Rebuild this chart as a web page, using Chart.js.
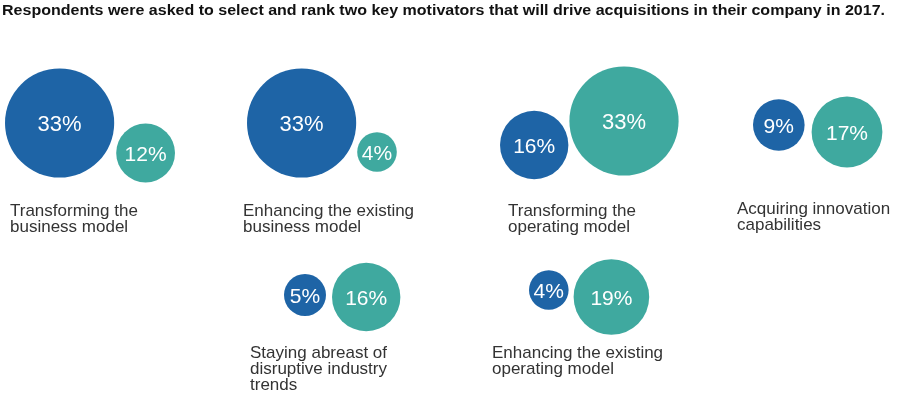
<!DOCTYPE html>
<html>
<head>
<meta charset="utf-8">
<script src="https://cdn.jsdelivr.net/npm/chart.js@4"></script>
<style>
  html, body { margin: 0; padding: 0; background: #ffffff; }
  #wrap { position: relative; width: 900px; height: 399px; }
</style>
</head>
<body>
<div id="wrap"><canvas id="c"></canvas></div>
<script>
// ---- data ----
const titleText = 'Respondents were asked to select and rank two key motivators that will drive acquisitions in their company in 2017.';
const categories = [
  ['Transforming the', 'business model'],
  ['Enhancing the existing', 'business model'],
  ['Transforming the', 'operating model'],
  ['Acquiring innovation', 'capabilities'],
  ['Staying abreast of', 'disruptive industry', 'trends'],
  ['Enhancing the existing', 'operating model']
];
const rankFirst  = [33, 33, 16, 9, 5, 4];   // blue bubbles
const rankSecond = [12, 4, 33, 17, 16, 19]; // teal bubbles

// ---- layout (positions / styles, not data) ----
const layout = [
  { left: 5,   gap: 2, yA: 123, yB: 153, lx: 10,  ly: 216 },
  { left: 247, gap: 1, yA: 123, yB: 152, lx: 243, ly: 216 },
  { left: 500, gap: 1, yA: 145, yB: 121, lx: 508, ly: 216 },
  { left: 753, gap: 7, yA: 125, yB: 132, lx: 737, ly: 214 },
  { left: 284, gap: 6, yA: 295, yB: 297, lx: 250, ly: 358 },
  { left: 529, gap: 5, yA: 290, yB: 297, lx: 492, ly: 358 }
];
const BLUE = '#1e64a6';
const TEAL = '#3fa99f';
const radiusOf = v => 15 + 1.2 * v;

const firstPts = [], secondPts = [];
categories.forEach((c, i) => {
  const L = layout[i];
  const rA = radiusOf(rankFirst[i]);
  const rB = radiusOf(rankSecond[i]);
  const xA = L.left + rA;
  const xB = xA + rA + L.gap + rB;
  firstPts.push({ x: xA, y: L.yA, r: rA, v: rankFirst[i] });
  secondPts.push({ x: xB, y: L.yB, r: rB, v: rankSecond[i] });
});

const textPlugin = {
  id: 'texts',
  afterDatasetsDraw(chart) {
    const ctx = chart.ctx;
    ctx.save();
    // bubble values
    ctx.fillStyle = '#ffffff';
    ctx.textAlign = 'center';
    ctx.textBaseline = 'alphabetic';
    chart.data.datasets.forEach((ds, di) => {
      const meta = chart.getDatasetMeta(di);
      meta.data.forEach((el, i) => {
        const p = el.getProps(['x', 'y'], true);
        const size = ds.data[i].v >= 30 ? 22 : 21;
        ctx.font = size + 'px "Liberation Sans", Arial, sans-serif';
        ctx.fillText(ds.data[i].v + '%', p.x, p.y + size * 0.36);
      });
    });
    // category labels
    ctx.fillStyle = '#333333';
    ctx.textAlign = 'left';
    ctx.font = '17px "Liberation Sans", Arial, sans-serif';
    categories.forEach((lines, i) => {
      const L = layout[i];
      lines.forEach((t, k) => ctx.fillText(t, L.lx, L.ly + k * 15.8));
    });
    // title
    ctx.fillStyle = '#111111';
    ctx.font = 'bold 14.5px "Liberation Sans", Arial, sans-serif';
    const w = ctx.measureText(titleText).width;
    const sx = 883 / w;
    ctx.translate(2, 15);
    ctx.scale(sx, 1);
    ctx.fillText(titleText, 0, 0);
    ctx.restore();
  }
};

new Chart(document.getElementById('c'), {
  type: 'bubble',
  data: {
    datasets: [
      { label: 'Ranked first', data: firstPts, backgroundColor: BLUE, borderWidth: 0, hoverBorderWidth: 0, clip: false },
      { label: 'Ranked second', data: secondPts, backgroundColor: TEAL, borderWidth: 0, hoverBorderWidth: 0, clip: false }
    ]
  },
  options: {
    responsive: true,
    maintainAspectRatio: false,
    animation: false,
    events: [],
    layout: { padding: 0, autoPadding: false },
    plugins: { legend: { display: false }, tooltip: { enabled: false }, title: { display: false } },
    scales: {
      x: { type: 'linear', min: 0, max: 900, display: false },
      y: { type: 'linear', min: 0, max: 399, reverse: true, display: false }
    }
  },
  plugins: [textPlugin]
});
</script>
</body>
</html>
